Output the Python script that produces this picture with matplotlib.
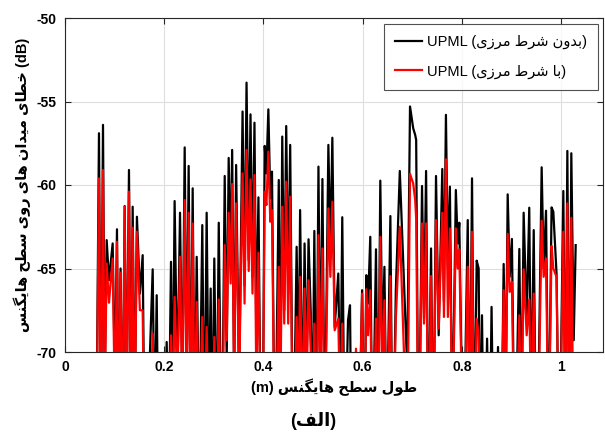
import matplotlib
matplotlib.use("Agg")
import matplotlib.pyplot as plt
import numpy as np

plt.rcParams['axes.unicode_minus'] = False

# ---------------- data ----------------
x_pos = [0.062, 0.0685, 0.0725, 0.0766, 0.080, 0.084, 0.0887, 0.0961, 0.1008, 0.1048,
         0.108, 0.112, 0.116, 0.1203, 0.124, 0.129, 0.133, 0.1364, 0.1405, 0.145,
         0.151, 0.1566, 0.161, 0.168, 0.1768, 0.1806, 0.1849, 0.1895, 0.198, 0.205,
         0.209, 0.2137, 0.217, 0.221, 0.2265, 0.2319, 0.2366, 0.2413, 0.2453, 0.2493,
         0.2534, 0.2574, 0.2615, 0.2655, 0.2708, 0.2768, 0.281, 0.2856, 0.2897, 0.2937,
         0.297, 0.301, 0.3058, 0.310, 0.316, 0.322, 0.326, 0.330, 0.334, 0.337,
         0.341, 0.345, 0.351, 0.358, 0.362, 0.366, 0.3704, 0.374, 0.378, 0.382,
         0.3857, 0.390, 0.3945, 0.3985, 0.4026, 0.406, 0.410, 0.4139, 0.4173, 0.4234,
         0.431, 0.434, 0.438, 0.442, 0.446, 0.450, 0.454, 0.460, 0.467, 0.471,
         0.474, 0.479, 0.483, 0.487, 0.491, 0.4954, 0.499, 0.5027, 0.5067, 0.511,
         0.5147, 0.519, 0.5236, 0.531, 0.535, 0.539, 0.5437, 0.551, 0.555, 0.559,
         0.564, 0.5706, 0.5746, 0.578, 0.5867, 0.5913, 0.599, 0.6035, 0.6075, 0.611,
         0.6155, 0.620, 0.627, 0.631, 0.6357, 0.640, 0.644, 0.6485, 0.656, 0.6606,
         0.667, 0.675, 0.690, 0.6956, 0.702, 0.706, 0.708, 0.713, 0.7198, 0.7238,
         0.728, 0.7325, 0.738, 0.7425, 0.748, 0.7534, 0.7607, 0.764, 0.768, 0.772,
         0.776, 0.781, 0.788, 0.7917, 0.795, 0.803, 0.812, 0.816, 0.8206, 0.825,
         0.830, 0.834, 0.8367, 0.8407, 0.845, 0.851, 0.8555, 0.860, 0.8655, 0.873,
         0.878, 0.8844, 0.8885, 0.8925, 0.8966, 0.901, 0.907, 0.916, 0.920, 0.9247,
         0.9308, 0.936, 0.940, 0.945, 0.951, 0.961, 0.965, 0.9698, 0.975, 0.981,
         0.9845, 0.991, 0.9966, 1.0047, 1.0087, 1.0128, 1.0168, 1.0208, 1.0256, 1.0296]

black_db = [-80, -56.9, -75, -56.4, -72, -63.3, -65.7, -63.5, -72, -62.65,
            -75, -65.0, -76, -61.26, -74, -59.1, -75, -61.3, -74, -61.9,
            -66.5, -64.2, -78, -73, -65.05, -75, -66.6, -80, -78, -69.4,
            -76, -64.6, -74, -60.96, -72, -61.66, -73, -57.75, -72, -58.86,
            -75, -60.2, -75, -64.3, -76, -62.4, -76, -61.66, -74, -66.2,
            -76, -64.4, -76, -62.26, -78, -59.46, -70.5, -58.38, -64.8, -57.9,
            -72, -58.8, -72, -55.6, -66, -53.87, -64.5, -55.77, -65.5, -56.27,
            -69.3, -60.74, -75, -76, -57.66, -59.3, -55.47, -60.8, -59.2, -78,
            -59.7, -74, -57.1, -67.5, -56.47, -66.5, -57.6, -78, -63.7, -72,
            -61.5, -74, -63.5, -72, -63.25, -67.6, -75, -62.75, -76, -58.9,
            -72, -59.64, -76, -57.6, -64, -57.17, -68.5, -65.3, -74, -61.93,
            -77, -68.1, -67.2, -78, -76, -78, -66.3, -76, -65.4, -67.1,
            -63.1, -77, -63.85, -76, -59.74, -70, -64.9, -76, -61.86, -78,
            -66.3, -59.16, -71, -55.3, -56.6, -57.0, -57.3, -78, -60.06, -68,
            -59.16, -76, -63.8, -77, -59.46, -69, -59.04, -67, -55.8, -65,
            -60.1, -75, -60.3, -63.5, -62.26, -78, -62.1, -76, -59.6, -76,
            -64.53, -65, -76, -67.8, -78, -69.2, -78, -67.3, -80, -69.7,
            -80, -64.73, -73, -60.56, -65.5, -63.23, -78, -63.83, -75, -61.66,
            -68.1, -61.36, -74, -62.7, -80, -58.94, -65, -61.54, -76, -61.34,
            -61.6, -65.3, -78, -60.36, -75, -57.96, -76, -58.1, -69.3, -63.6]

red_db = [-80, -59.6, -75, -59.1, -73, -64.7, -67.05, -64.4, -74, -63.4,
          -75, -65.25, -76, -61.3, -74, -60.4, -75, -62.55, -74, -62.8,
          -67.5, -67.5, -78, -78, -68.9, -75, -72, -80, -78, -75,
          -76, -69, -74, -66.7, -72, -64.3, -73, -60.9, -72, -61.66,
          -75, -62.3, -75, -67.0, -76, -67.9, -76, -68.5, -74, -72,
          -76, -69.1, -76, -66.85, -78, -63.6, -69.3, -61.66, -65.9, -59.94,
          -72, -61.1, -72, -59.3, -67.1, -57.9, -65.15, -59.66, -66.5, -59.4,
          -72, -64.05, -75, -76, -60.4, -61.2, -58.0, -62.2, -61.5, -78,
          -64.9, -74, -61.3, -68.3, -59.8, -68.3, -60.7, -78, -67.9, -72,
          -65.5, -74, -66.2, -72, -65.7, -70, -75, -68.3, -76, -63.0,
          -72, -63.8, -76, -61.4, -65.5, -61.0, -68.7, -68, -74, -68.3,
          -77, -76, -75, -78, -69.8, -78, -66.5, -76, -66.25, -69,
          -66.3, -77, -68, -76, -63.1, -72, -66.9, -76, -65.45, -78,
          -68, -62.5, -76, -59.34, -59.9, -60.9, -62, -78, -62.3, -68.3,
          -62.3, -76, -65.45, -77, -62.1, -68.6, -61.66, -67.9, -58.46, -67.9,
          -62.6, -75, -62.6, -65, -63.85, -78, -64.9, -76, -62.8, -76,
          -68, -69, -76, -74, -78, -76, -78, -74, -80, -78,
          -80, -66.3, -73, -62.93, -66.4, -65.8, -78, -67.8, -75, -65.05,
          -69, -66.85, -74, -66.5, -80, -62.14, -65.5, -64.4, -76, -63.65,
          -65, -65.5, -78, -62.8, -75, -61.1, -76, -61.96, -78, -78]

x_ticks = [0, 0.2, 0.4, 0.6, 0.8, 1]
y_ticks = [-70, -65, -60, -55, -50]

label_black = 'بدون شرط مرزی'
label_red = 'با شرط مرزی'
ylabel_fa = 'خطای میدان های روی سطح هایگنس'
xlabel_fa = 'طول سطح هایگنس'
title_fa = 'الف'

# ---------------- Persian shaping (presentation forms, visual order) ----------------
FORMS = {
    'ا': ('\uFE8D', '\uFE8E', None, None),
    'ب': ('\uFE8F', '\uFE90', '\uFE91', '\uFE92'),
    'ح': ('\uFEA1', '\uFEA2', '\uFEA3', '\uFEA4'),
    'خ': ('\uFEA5', '\uFEA6', '\uFEA7', '\uFEA8'),
    'د': ('\uFEA9', '\uFEAA', None, None),
    'ر': ('\uFEAD', '\uFEAE', None, None),
    'ز': ('\uFEAF', '\uFEB0', None, None),
    'س': ('\uFEB1', '\uFEB2', '\uFEB3', '\uFEB4'),
    'ش': ('\uFEB5', '\uFEB6', '\uFEB7', '\uFEB8'),
    'ط': ('\uFEC1', '\uFEC2', '\uFEC3', '\uFEC4'),
    'ف': ('\uFED1', '\uFED2', '\uFED3', '\uFED4'),
    'ل': ('\uFEDD', '\uFEDE', '\uFEDF', '\uFEE0'),
    'م': ('\uFEE1', '\uFEE2', '\uFEE3', '\uFEE4'),
    'ن': ('\uFEE5', '\uFEE6', '\uFEE7', '\uFEE8'),
    'ه': ('\uFEE9', '\uFEEA', '\uFEEB', '\uFEEC'),
    'و': ('\uFEED', '\uFEEE', None, None),
    'ی': ('\uFBFC', '\uFBFD', '\uFBFE', '\uFBFF'),
    'گ': ('\uFB92', '\uFB93', '\uFB94', '\uFB95'),
}


def shape(s):
    out = []
    for i, c in enumerate(s):
        if c not in FORMS:
            out.append(c)
            continue
        f = FORMS[c]
        prev = s[i - 1] if i > 0 else None
        nxt = s[i + 1] if i + 1 < len(s) else None
        jp = prev in FORMS and FORMS[prev][2] is not None
        jn = f[2] is not None and nxt in FORMS
        if jp and jn:
            out.append(f[3])
        elif jp:
            out.append(f[1])
        elif jn:
            out.append(f[2])
        else:
            out.append(f[0])
    return ''.join(out)


def rtl(s):
    return shape(s)[::-1]


FAM = ['Liberation Sans', 'DejaVu Sans']

# ---------------- figure ----------------
fig = plt.figure(figsize=(6.05, 4.34), dpi=100)
ax = fig.add_axes([65 / 605, 82 / 434, 538 / 605, 334 / 434])

ax.plot(x_pos, black_db, color='black', lw=1.6, label='UPML (' + rtl(label_black) + ')', zorder=3)
ax.plot(x_pos, red_db, color='#ff0000', lw=1.6, label='UPML (' + rtl(label_red) + ')', zorder=4)

ax.set_xlim(0, 538 / 496)
ax.set_ylim(-70, -50)
ax.set_xticks(x_ticks)
ax.set_xticklabels(['0', '0.2', '0.4', '0.6', '0.8', '1'])
ax.set_yticks(y_ticks)
ax.set_yticklabels([str(v) for v in y_ticks])

ax.grid(True, color='#dedede', lw=0.8, zorder=0)
ax.set_axisbelow(True)
for sp in ax.spines.values():
    sp.set_color('#262626')
    sp.set_linewidth(0.8)
ax.tick_params(direction='in', length=4, width=0.8, color='#262626',
               top=True, right=True, labelsize=10, pad=6)
for lab in ax.get_xticklabels() + ax.get_yticklabels():
    lab.set_fontweight('bold')
    lab.set_family(FAM)

ax.set_xlabel('(m) ' + rtl(xlabel_fa), fontsize=10.5, fontweight='bold', family=FAM, labelpad=3)
ax.set_ylabel(rtl(ylabel_fa) + ' (dB)', fontsize=10.5, fontweight='bold', family=FAM, labelpad=4)

leg = ax.legend(loc='upper right', bbox_to_anchor=(0.990, 0.982), prop={'family': FAM, 'size': 10.5},
                frameon=True, fancybox=False, handlelength=1.9, handletextpad=0.3,
                labelspacing=1.05, borderpad=0.75, borderaxespad=0)
leg.get_frame().set_edgecolor('#262626')
leg.get_frame().set_linewidth(0.8)

fig.text(313 / 605, 1 - 421 / 434, '(' + rtl(title_fa) + ')', ha='center', va='center',
         fontsize=13, fontweight='bold', family=FAM)

fig.savefig('out.png', dpi=100)
